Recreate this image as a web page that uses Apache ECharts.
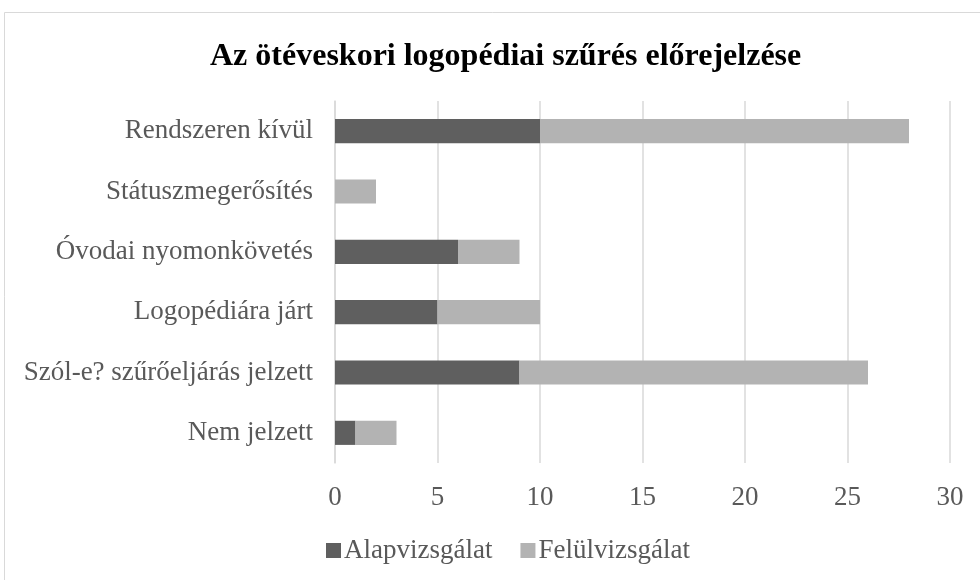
<!DOCTYPE html>
<html><head><meta charset="utf-8">
<script src="https://cdn.jsdelivr.net/npm/echarts@6/dist/echarts.min.js"></script>
<style>html,body{margin:0;padding:0;background:#fff}#c{width:980px;height:580px}</style>
</head><body><div id="c"></div>
<script>
var categories = ['Nem jelzett','Szól-e? szűrőeljárás jelzett','Logopédiára járt','Óvodai nyomonkövetés','Státuszmegerősítés','Rendszeren kívül'];
var alapvizsgalat = [1, 9, 5, 6, 0, 10];
var felulvizsgalat = [2, 17, 5, 3, 2, 18];
var xTicks = [0, 5, 10, 15, 20, 25, 30];

var font = '"Liberation Serif", "Times New Roman", serif';
var chart = echarts.init(document.getElementById('c'), null, {renderer:'canvas'});
chart.setOption({
  animation: false,
  backgroundColor: '#fff',
  graphic: [{type:'rect', shape:{x:4.5, y:12.5, width:1000, height:1000}, style:{fill:'none', stroke:'#d9d9d9', lineWidth:1}, z:-1}],
  title: {text:'Az ötéveskori logopédiai szűrés előrejelzése', left:205, top:36,
    textStyle:{fontFamily:font, fontWeight:'bold', fontSize:32, color:'#000'}},
  legend: {top:532, left:321, itemWidth:15, itemHeight:15, itemGap:28, icon:'rect',
    textStyle:{fontFamily:font, fontSize:27, color:'#595959', padding:[0,0,0,-2]}, data:['Alapvizsgálat','Felülvizsgálat']},
  grid: {left:335, right:30, top:101, bottom:117, containLabel:false},
  xAxis: {type:'value', min:xTicks[0], max:xTicks[xTicks.length-1], interval:5,
    axisLine:{show:false}, axisTick:{show:false},
    splitLine:{lineStyle:{color:'#d9d9d9', width:1.5}},
    axisLabel:{fontFamily:font, fontSize:27, color:'#595959', margin:21}},
  yAxis: {type:'category', data:categories,
    axisLine:{show:true, lineStyle:{color:'#d9d9d9', width:1.5}}, axisTick:{show:false},
    axisLabel:{fontFamily:font, fontSize:27, color:'#595959', margin:22}},
  series: [
    {name:'Alapvizsgálat', type:'bar', stack:'a', data:alapvizsgalat, barCategoryGap:'60%', itemStyle:{color:'#5f5f5f'}},
    {name:'Felülvizsgálat', type:'bar', stack:'a', data:felulvizsgalat, barCategoryGap:'60%', itemStyle:{color:'#b3b3b3'}}
  ]
});
</script></body></html>
